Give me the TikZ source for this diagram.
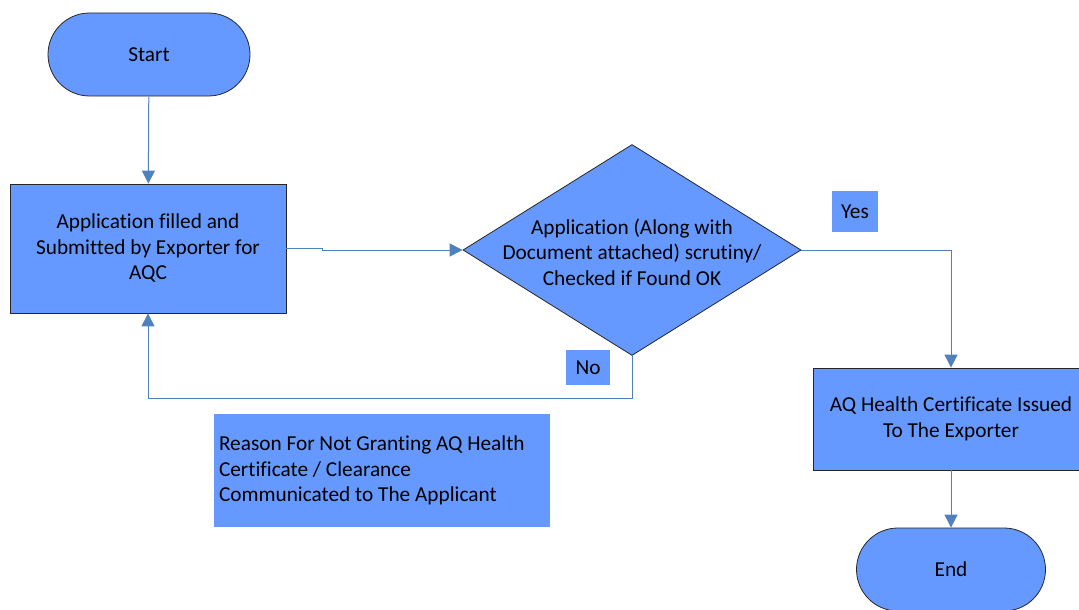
\documentclass[tikz,border=0pt]{standalone}
\usepackage{fontspec}
\setmainfont{Carlito}[Ligatures={NoCommon}]
\usetikzlibrary{arrows.meta,shapes.geometric}
\definecolor{boxfill}{HTML}{6699FF}
\definecolor{connc}{HTML}{4F81BD}
\begin{document}
\begin{tikzpicture}[x=1pt,y=-1pt,
 every node/.style={font=\fontsize{21.3}{25.5}\selectfont, text=black},
 term/.style={draw=black!85, fill=boxfill, rounded corners=41.5pt, minimum width=202pt, minimum height=83pt, inner sep=0pt, line width=0.8pt},
 proc/.style={draw=black!85, fill=boxfill, inner sep=0pt, align=center, line width=0.8pt},
 dec/.style={diamond, aspect=1.6, draw=black!85, fill=boxfill, inner sep=0pt, minimum width=338pt, minimum height=211pt, line width=0.8pt},
 lbl/.style={fill=boxfill, inner sep=0pt},
 conn/.style={draw=connc, line width=1pt},
 arr/.style={conn, -{Triangle[length=13pt,width=13pt]}}]
\useasboundingbox (0,0) rectangle (1079,610);
\clip (0,0) rectangle (1079,610);
\node[term] (start) at (149,54.5) {Start};
\node[proc, minimum width=276pt, minimum height=129pt] (box1) at (148,248.5) {Application filled and\\Submitted by Exporter for\\AQC};
\node[dec] (dec) at (632,250) {};
\node[align=center, inner sep=0pt] (dectext) at ([yshift=-2pt]dec.center) {Application (Along with\\Document attached) scrutiny/\\Checked if Found OK};
\node[lbl, minimum width=46pt, minimum height=41pt] (yes) at (855,211.5) {Yes};
\node[lbl, minimum width=44pt, minimum height=35pt] (no) at (588,367.5) {No};
\node[proc, minimum width=276pt, minimum height=102pt] (aq) at (951,419) {AQ Health Certificate Issued\\To The Exporter};
\node[term, minimum width=189pt] (end) at (951,569.5) {End};
\node[lbl, minimum width=336pt, minimum height=113pt, text width=326pt, inner xsep=5pt, align=flush left] (reason) at (382,470.5) {Reason For Not Granting AQ Health\\Certificate / Clearance\\Communicated to The Applicant};
\coordinate (j1) at (322,250);
\coordinate (j0) at (322,248.5);
\draw[arr] (start) -- (box1);
\draw[arr] (box1.east) -- (j0) -- (j1) -- (dec.west);
\draw[arr] (dec.east) -| (aq.north);
\draw[arr] (dec.south) -- ++(0,43) -| (box1.south);
\draw[arr] (aq) -- (end);
\end{tikzpicture}
\end{document}
